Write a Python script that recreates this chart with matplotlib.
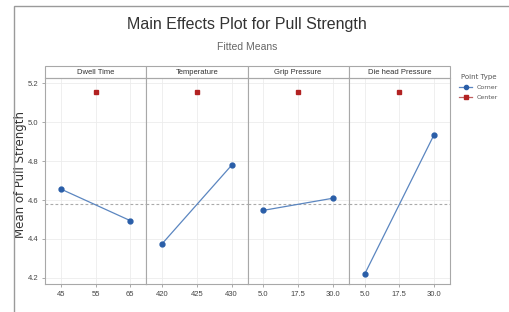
import matplotlib
matplotlib.use("Agg")
import matplotlib.pyplot as plt
from matplotlib.lines import Line2D
from matplotlib.patches import Rectangle

factors = ["Dwell Time", "Temperature", "Grip Pressure", "Die head Pressure"]
corner_levels = [[45, 65], [420, 430], [5.0, 30.0], [5.0, 30.0]]
center_levels = [55, 425, 17.5, 17.5]
tick_labels = [["45", "55", "65"], ["420", "425", "430"],
               ["5.0", "17.5", "30.0"], ["5.0", "17.5", "30.0"]]
corner_means = [[4.656, 4.494], [4.376, 4.778], [4.547, 4.609], [4.220, 4.935]]
center_means = [5.152, 5.152, 5.152, 5.152]
overall_mean = 4.577
y_ticks = [4.2, 4.4, 4.6, 4.8, 5.0, 5.2]

W, H = 509, 312
fig = plt.figure(figsize=(W / 100, H / 100), dpi=100)
narrow = ["Liberation Sans", "DejaVu Sans"]

# outer frame
fig.add_artist(Rectangle((14 / W, -0.1), 1.2, (H - 6) / H + 0.1, transform=fig.transFigure,
                         fill=False, edgecolor="#9a9a9a", lw=1.0))

fig.text(247 / W, 1 - 24 / H, "Main Effects Plot for Pull Strength", ha="center", va="center",
         fontsize=11.5, family=narrow, color="#333333")
fig.text(247 / W, 1 - 47 / H, "Fitted Means", ha="center", va="center",
         fontsize=7.5, family=narrow, color="#666666")

left, right = 45, 450
top_data, bottom = 78, 284
strip_top = 66
pw = (right - left) / 4
blue = "#2a5ea8"
line_blue = "#5b86c0"
red = "#b22222"
border = "#a8a8a8"

axes = []
for i in range(4):
    ax = fig.add_axes([(left + i * pw) / W, (H - bottom) / H, pw / W, (bottom - top_data) / H])
    axes.append(ax)
    lo, hi = corner_levels[i]
    m = 0.23 * (hi - lo)
    ax.set_xlim(lo - m, hi + m)
    ax.set_ylim(4.169, 5.226)
    ticks = [lo, center_levels[i], hi]
    ax.set_xticks(ticks)
    ax.set_xticklabels(tick_labels[i], fontsize=5.5, family=narrow, color="#444444")
    ax.set_yticks(y_ticks)
    if i == 0:
        ax.set_yticklabels([f"{v:.1f}" for v in y_ticks], fontsize=5.5, family=narrow, color="#444444")
        ax.set_ylabel("Mean of Pull Strength", fontsize=8.5, color="#333333")
        ax.yaxis.set_label_coords(-0.18, 0.53)
    else:
        ax.tick_params(axis="y", length=0, labelleft=False)
    ax.tick_params(axis="both", length=2, width=0.5, color="#888888", pad=3)
    if i > 0:
        ax.tick_params(axis="y", length=0)
    ax.grid(True, color="#ececec", lw=0.6)
    ax.set_axisbelow(True)
    for s in ax.spines.values():
        s.set_color(border)
        s.set_linewidth(0.8)
    ax.axhline(overall_mean, color="#aaaaaa", lw=0.8, ls=(0, (2.5, 2)), zorder=1)
    ax.plot(corner_levels[i], corner_means[i], color=line_blue, lw=0.9, zorder=2)
    ax.plot(corner_levels[i], corner_means[i], "o", color=blue, ms=3.5, zorder=3)
    ax.plot([center_levels[i]], [center_means[i]], "s", color=red, ms=3.2, zorder=3)
    # strip
    sh = (top_data - strip_top) / (bottom - top_data)
    ax.add_patch(Rectangle((0, 1), 1, sh, transform=ax.transAxes, clip_on=False,
                           facecolor="white", edgecolor=border, lw=0.8))
    ax.text(0.5, 1 + sh / 2, factors[i], transform=ax.transAxes, ha="center", va="center",
            fontsize=5.5, family=narrow, color="#333333")

handles = [Line2D([], [], color=line_blue, lw=0.9, marker="o", mfc=blue, mec=blue, ms=3),
           Line2D([], [], color="#c06060", lw=0.9, marker="s", mfc=red, mec=red, ms=3)]
leg = fig.legend(handles, ["Corner", "Center"], title="Point Type", loc="upper left",
                 bbox_to_anchor=(455 / W, 1 - 70 / H), frameon=False, fontsize=4.5,
                 title_fontsize=5, handlelength=2.0, labelspacing=0.7, borderpad=0.2)
for t in leg.get_texts():
    t.set_color("#555555")
leg.get_title().set_color("#555555")

fig.savefig("out.png", dpi=100)
